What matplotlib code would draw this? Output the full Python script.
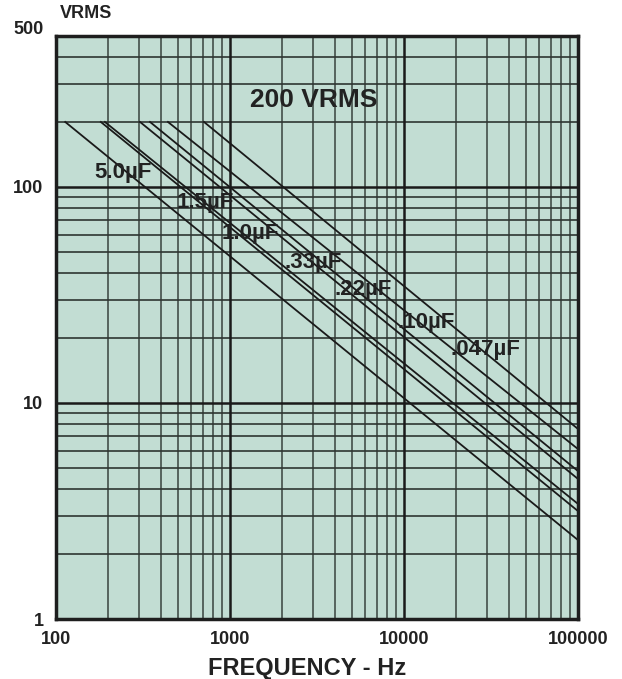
import matplotlib
matplotlib.use("Agg")
import matplotlib.pyplot as plt
import numpy as np

plt.rcParams['font.family'] = ['Liberation Sans', 'DejaVu Sans']
plt.rcParams['font.weight'] = 'bold'

# capacitor curves: frequency where each curve leaves 200 V, voltage at 100 kHz
caps = ['5.0µF', '1.5µF', '1.0µF', '.33µF', '.22µF', '.10µF', '.047µF']
f_start = [113, 181, 191, 304, 347, 440, 709]
v_start = [200, 200, 200, 200, 200, 200, 200]
f_end = [100000] * 7
v_end = [2.32, 3.16, 3.41, 4.45, 4.84, 6.12, 7.58]

x_ticks = [100, 1000, 10000, 100000]
y_ticks = [1, 10, 100]

# label anchor positions (data coords)
label_f = [167, 496, 900, 2070, 4010, 9120, 18400]
label_v = [117, 85.2, 61.2, 44.5, 33.4, 23.7, 17.6]

fig = plt.figure(figsize=(6.22, 6.79), dpi=100)
ax = fig.add_axes([56 / 622, 60 / 679, 522 / 622, 583 / 679])
ax.set_facecolor('#c2ddd3')
ax.set_xscale('log')
ax.set_yscale('log')
ax.set_xlim(100, 100000)
ax.set_ylim(1, 500)

# grid lines
for dec in [100, 1000, 10000]:
    for m in range(2, 10):
        ax.axvline(dec * m, color='#4d5a54', lw=1.3, zorder=1)
for dec in [1, 10, 100]:
    for m in range(2, 10):
        if dec * m <= 500:
            ax.axhline(dec * m, color='#2e3532', lw=1.2, zorder=1)
for v in [1000, 10000]:
    ax.axvline(v, color='#1a1a1a', lw=1.8, zorder=2)
for v in [10, 100]:
    ax.axhline(v, color='#1a1a1a', lw=1.8, zorder=2)

for i in range(len(caps)):
    ax.plot([f_start[i], f_end[i]], [v_start[i], v_end[i]], color='#1a1a1a',
            lw=1.3, zorder=3, clip_on=True)
    ax.text(label_f[i], label_v[i], caps[i], fontsize=16, fontweight='bold',
            color='#222222', ha='left', va='center', zorder=4)

ax.text(3040, 253, '200 VRMS', fontsize=19, fontweight='bold', color='#222222',
        ha='center', va='center', zorder=4)

ax.set_xticks(x_ticks)
ax.set_xticklabels([str(t) for t in x_ticks])
ax.set_yticks(y_ticks)
ax.set_yticklabels([str(t) for t in y_ticks])
ax.minorticks_off()
ax.tick_params(length=0, labelsize=13, pad=9, colors='#222222')
for lab in ax.get_xticklabels() + ax.get_yticklabels():
    lab.set_fontweight('bold')
ax.annotate('500', xy=(0, 500), xycoords=('axes fraction', 'data'),
            xytext=(-9, 5), textcoords='offset points', ha='right', va='center',
            fontsize=13, fontweight='bold', color='#222222')

for s in ax.spines.values():
    s.set_linewidth(2.5)
    s.set_color('#1e1e1e')
    s.set_zorder(5)

fig.text(60 / 622, 1 - 14 / 679, 'VRMS', fontsize=13, fontweight='bold',
         color='#222222', ha='left', va='center')
fig.text(307 / 622, 1 - 668 / 679, 'FREQUENCY - Hz', fontsize=17,
         fontweight='bold', color='#222222', ha='center', va='center')

plt.savefig('out.png', dpi=100)
